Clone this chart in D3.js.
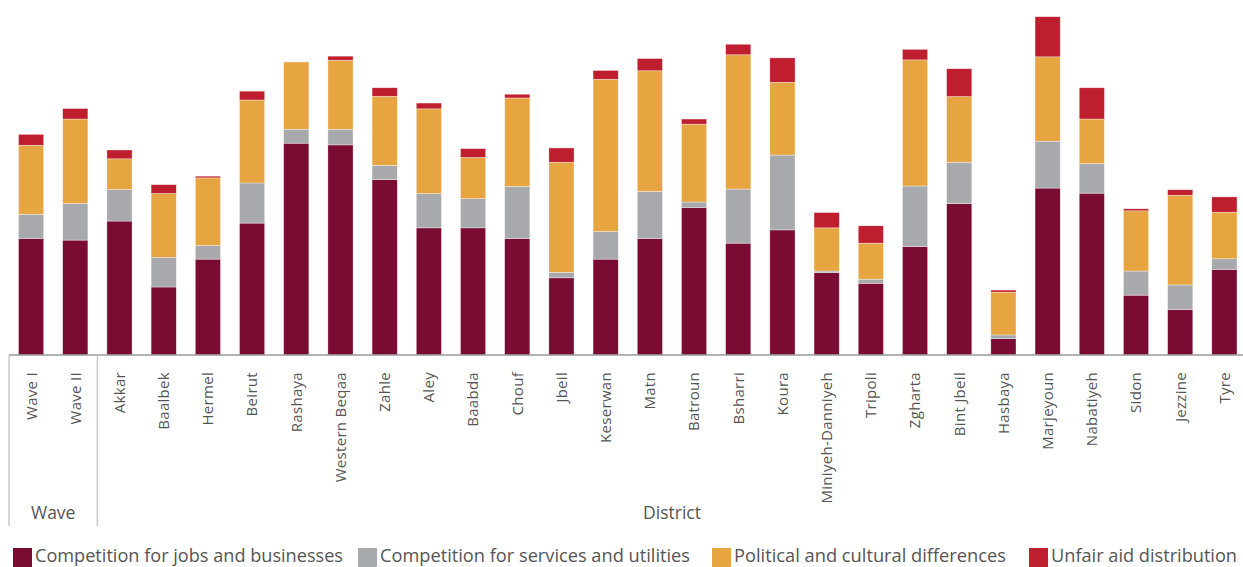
<!DOCTYPE html>
<html>
<head>
<meta charset="utf-8">
<script src="https://cdn.jsdelivr.net/npm/d3@7"></script>
<style>
  html, body { margin: 0; padding: 0; background: #fff; }
  svg { display: block; }
  text { font-family: "Open Sans", "Noto Sans", sans-serif; }
</style>
</head>
<body>
<svg id="chart" width="1243" height="567"></svg>
<script>
// ---- Data ----
const categories = ["Wave I", "Wave II", "Akkar", "Baalbek", "Hermel", "Beirut", "Rashaya", "Western Beqaa", "Zahle", "Aley", "Baabda", "Chouf", "Jbeil", "Keserwan", "Matn", "Batroun", "Bsharri", "Koura", "Miniyeh-Danniyeh", "Tripoli", "Zgharta", "Bint Jbeil", "Hasbaya", "Marjeyoun", "Nabatiyeh", "Sidon", "Jezzine", "Tyre"];
const groupNames = ["Wave", "District"];
const groupSizes = [2, 26];
const seriesNames = ["Competition for jobs and businesses", "Competition for services and utilities", "Political and cultural differences", "Unfair aid distribution"];
const jobs      = [34.3, 33.8, 39.4, 20.0, 28.2, 38.8, 62.3, 61.8, 51.6, 37.4, 37.4, 34.3, 22.7, 28.2, 34.3, 43.4, 32.9, 36.8, 24.2, 21.1, 31.9, 44.5, 4.8, 49.1, 47.6, 17.6, 13.4, 25.2];
const services  = [7.1, 10.8, 9.3, 8.7, 4.0, 11.8, 4.1, 4.6, 4.2, 10.1, 8.6, 15.3, 1.6, 8.1, 13.8, 1.6, 15.9, 22.0, 0.5, 1.2, 17.8, 12.2, 1.1, 13.8, 8.7, 7.1, 7.2, 3.1];
const political = [20.3, 24.8, 9.0, 18.8, 19.9, 24.4, 19.8, 20.3, 20.3, 24.9, 12.1, 26.0, 32.4, 44.8, 35.5, 22.9, 39.5, 21.4, 12.7, 10.6, 37.1, 19.3, 12.6, 24.8, 13.1, 17.7, 26.4, 13.7];
const unfair    = [3.2, 3.1, 2.6, 2.6, 0.5, 2.6, 0.0, 1.2, 2.5, 1.7, 2.6, 1.1, 4.2, 2.6, 3.6, 1.5, 3.1, 7.2, 4.5, 5.1, 3.1, 8.2, 0.6, 11.8, 9.2, 0.6, 1.6, 4.5];
const colors = ["#7A0C33", "#A8A9AC", "#E6A540", "#BE1E2D"];

// ---- Build ----
const svg = d3.select("#chart");
const rows = categories.map((c, i) => ({cat: c, s0: jobs[i], s1: services[i], s2: political[i], s3: unfair[i]}));
const keys = ["s0", "s1", "s2", "s3"];
const stacked = d3.stack().keys(keys)(rows);

const baseY = 355;
const x = d3.scaleBand().domain(categories).range([9, 1246.5]).paddingInner(0.43).paddingOuter(0.215);
const y = d3.scaleLinear().domain([0, 100]).range([baseY, 15]);

// bars
svg.append("g").selectAll("g").data(stacked).join("g")
  .attr("fill", (d, i) => colors[i])
  .selectAll("rect").data(d => d).join("rect")
  .attr("x", d => x(d.data.cat))
  .attr("width", x.bandwidth())
  .attr("y", d => y(d[1]))
  .attr("height", d => Math.max(0, y(d[0]) - y(d[1])))
  .attr("stroke", "#ffffff")
  .attr("stroke-opacity", 0.6)
  .attr("stroke-width", 0.6);

// axis line
svg.append("line").attr("x1", 9).attr("x2", 1243).attr("y1", baseY).attr("y2", baseY)
  .attr("stroke", "#9a9a9a").attr("stroke-width", 1.5);

// group separators
const step = x.step();
let idx = 0;
const bounds = [0];
groupSizes.forEach(s => { idx += s; bounds.push(idx); });
bounds.forEach(b => {
  const bx = 9 + b * step;
  if (bx < 1243) {
    svg.append("line").attr("x1", bx).attr("x2", bx).attr("y1", baseY).attr("y2", 526)
      .attr("stroke", "#c9c9c9").attr("stroke-width", 1.5);
  }
});

// category labels
svg.append("g").selectAll("text").data(categories).join("text")
  .attr("transform", d => `translate(${x(d) + x.bandwidth() / 2},372) rotate(-90)`)
  .attr("text-anchor", "end")
  .attr("dy", "0.36em")
  .attr("font-size", 15)
  .attr("letter-spacing", 0.3)
  .attr("fill", "#555555")
  .text(d => d);

// group labels
groupNames.forEach((g, i) => {
  const x0 = 9 + bounds[i] * step, x1 = 9 + bounds[i + 1] * step;
  const cx = i === 0 ? (x0 + x1) / 2 : 672;
  svg.append("text").attr("x", cx).attr("y", 519)
    .attr("text-anchor", "middle").attr("font-size", 17.5).attr("fill", "#555555").text(g);
});

// legend
const legendX = [13, 358, 712, 1029];
const legendW = [308, 310, 272, 186];
const lg = svg.append("g");
seriesNames.forEach((n, i) => {
  lg.append("rect").attr("x", legendX[i]).attr("y", 548).attr("width", 19).attr("height", 19).attr("fill", colors[i]);
  lg.append("text").attr("x", legendX[i] + 22).attr("y", 562).attr("font-size", 18)
    .attr("textLength", legendW[i]).attr("lengthAdjust", "spacingAndGlyphs")
    .attr("fill", "#555555").text(n);
});
</script>
</body>
</html>
